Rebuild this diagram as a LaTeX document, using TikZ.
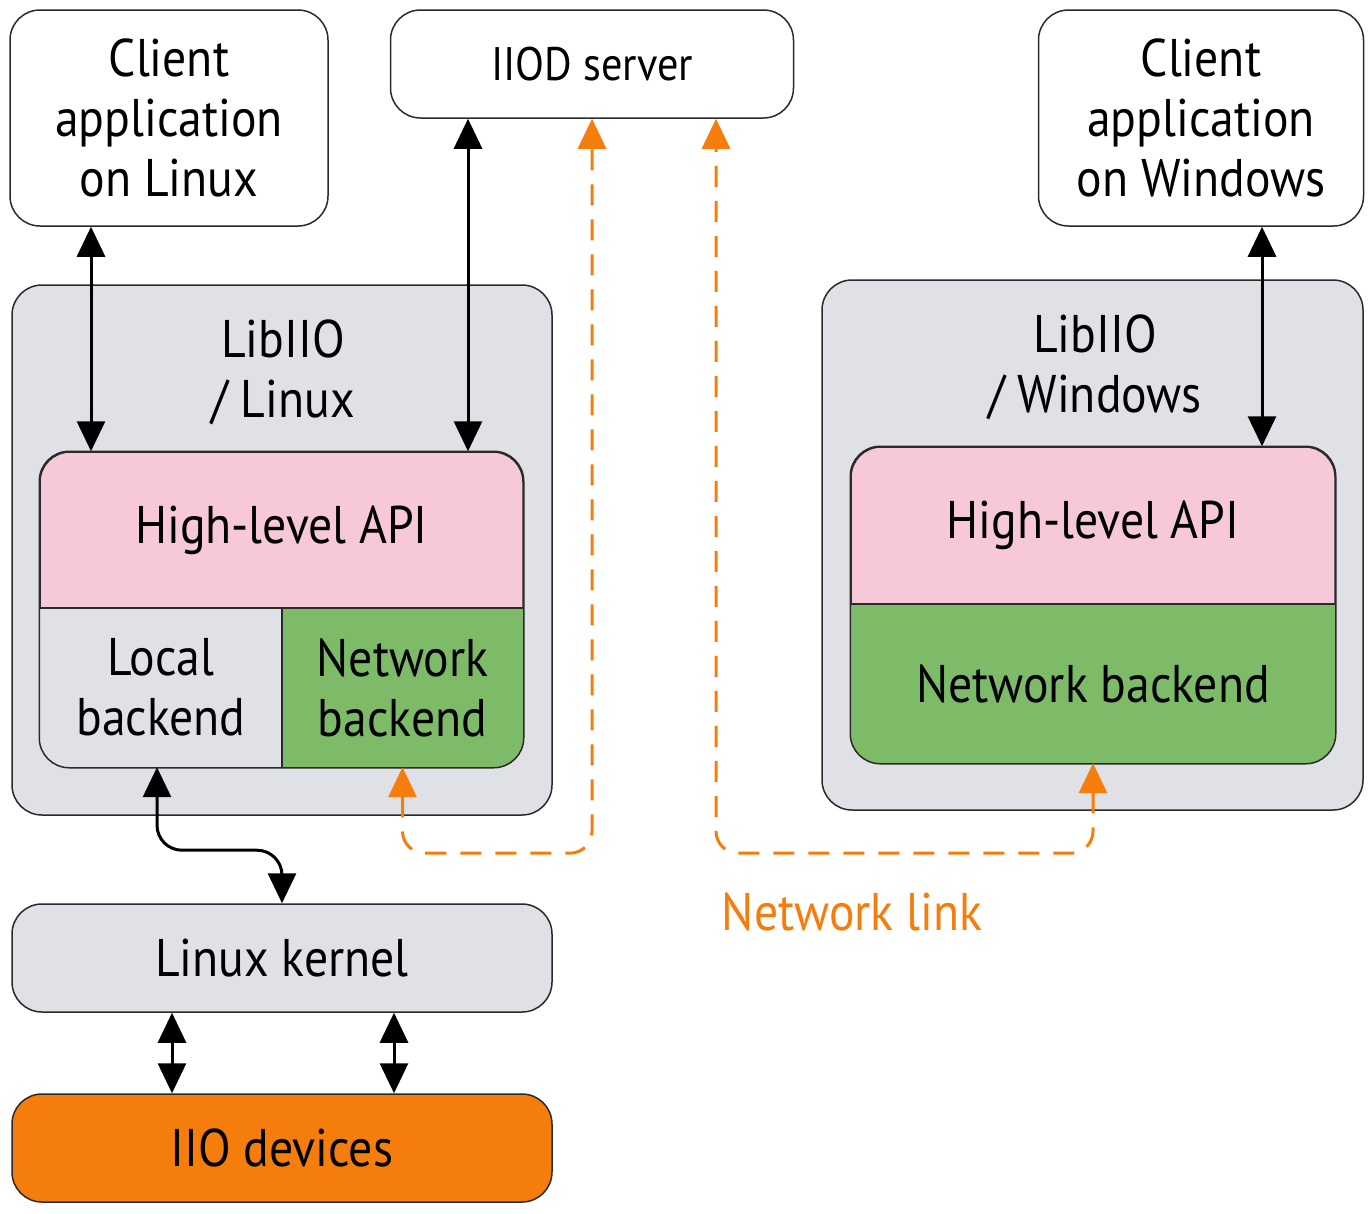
\documentclass[tikz,border=0pt]{standalone}
\usepackage{fontspec}
\setmainfont{PT Sans}[FakeStretch=0.9]
\usetikzlibrary{arrows.meta,positioning}

\definecolor{boxgray}{HTML}{E0E1E6}
\definecolor{apipink}{HTML}{F7C8D8}
\definecolor{netgreen}{HTML}{7DBB69}
\definecolor{iioorange}{HTML}{F47D0C}
\definecolor{edgegray}{HTML}{2A2A2A}

\tikzset{
    box/.style={draw=edgegray, line width=1.5pt, rounded corners=30pt,
        align=center, inner sep=0pt, font=\fontsize{53}{60}\selectfont},
    part/.style={inner sep=0pt, align=center, font=\fontsize{53}{60}\selectfont},
    link/.style={line width=3pt,
        {Triangle[width=28pt,length=30pt]}-{Triangle[width=28pt,length=30pt]}},
    netlink/.style={iioorange, line width=3pt, dash pattern=on 21pt off 14pt,
        rounded corners=22pt,
        {Triangle[width=28pt,length=30pt]}-{Triangle[width=28pt,length=30pt]}},
}

\begin{document}
\begin{tikzpicture}[x=1pt, y=-1pt]
\useasboundingbox (0,0) rectangle (1372,1213);

% top row
\node[box, minimum width=318pt, minimum height=216pt] (clientlx) at (169,118) {Client\\application\\on Linux};
\node[box, minimum width=403pt, minimum height=108pt, font=\fontsize{47}{54}\selectfont] (iiod) at (592,64) {IIOD server};
\node[box, minimum width=325pt, minimum height=216pt] (clientwin) at (1201,118) {Client\\application\\on Windows};

% LibIIO on Linux
\node[box, fill=boxgray, minimum width=540pt, minimum height=530pt] (liblx) at (282,550) {};
\node[part] (liblxtitle) at (283,372) {LibIIO\\/ Linux};
\node[box, fill=apipink, minimum width=483pt, minimum height=315pt] (corelx) at (281.5,609.5) {};
\node[part, minimum width=483pt, minimum height=156pt] (apilx) at (281.5,530) {High-level API};
\node[part, minimum width=242pt, minimum height=159pt] (local) at (161,687.5) {};
\node[part, minimum width=241pt, minimum height=159pt] (netlx) at (402.5,687.5) {};
\begin{scope}
    \clip[rounded corners=30pt] (corelx.south west) rectangle (corelx.north east);
    \fill[boxgray] (local.south west) rectangle (local.north east);
    \fill[netgreen] (netlx.south west) rectangle (netlx.north east);
\end{scope}
\draw[edgegray, line width=1.5pt] (local.north west) -- (netlx.north east)
    (local.north east) -- (local.south east);
\draw[edgegray, line width=1.5pt, rounded corners=30pt] (corelx.south west) rectangle (corelx.north east);
\node[part] at (local) {Local\\backend};
\node[part] at (netlx) {Network\\backend};

% LibIIO on Windows
\node[box, fill=boxgray, minimum width=541pt, minimum height=530pt] (libwin) at (1092.5,545) {};
\node[part] (libwintitle) at (1095,367) {LibIIO\\/ Windows};
\node[box, fill=apipink, minimum width=484pt, minimum height=316pt] (corewin) at (1093,605) {};
\node[part, minimum width=484pt, minimum height=157pt] (apiwin) at (1093,525.5) {High-level API};
\node[part, minimum width=484pt, minimum height=159pt] (netwin) at (1093,683.5) {};
\begin{scope}
    \clip[rounded corners=30pt] (corewin.south west) rectangle (corewin.north east);
    \fill[netgreen] (netwin.south west) rectangle (netwin.north east);
\end{scope}
\draw[edgegray, line width=1.5pt] (netwin.north west) -- (netwin.north east);
\draw[edgegray, line width=1.5pt, rounded corners=30pt] (corewin.south west) rectangle (corewin.north east);
\node[part] at (netwin) {Network backend};

% kernel and devices
\node[box, fill=boxgray, minimum width=540pt, minimum height=108pt] (kernel) at (282,958) {Linux kernel};
\node[box, fill=iioorange, minimum width=540pt, minimum height=108pt] (devices) at (282,1148) {IIO devices};

% connectors
\coordinate (xa) at (91,0);
\coordinate (xb) at (468,0);
\coordinate (xc) at (1262,0);
\coordinate (xd) at (172,0);
\coordinate (xe) at (394,0);
\coordinate (xf) at (592,0);
\coordinate (xg) at (716,0);
\draw[link] (clientlx.south -| xa) -- (corelx.north -| xa);
\draw[link] (iiod.south -| xb) -- (corelx.north -| xb);
\draw[link] (clientwin.south -| xc) -- (corewin.north -| xc);
\draw[link, rounded corners=25pt] (local.south -| 157,0) -- ++(0,83) -| (kernel.north);
\draw[link] (kernel.south -| xd) -- (devices.north -| xd);
\draw[link] (kernel.south -| xe) -- (devices.north -| xe);

\draw[netlink] (netlx.south) -- ++(0,86) -| (iiod.south -| xf);
\draw[netlink] (netwin.south) -- ++(0,90) -| (iiod.south -| xg);
\node[part, text=iioorange] (netlabel) at (852,912) {Network link};
\end{tikzpicture}
\end{document}
